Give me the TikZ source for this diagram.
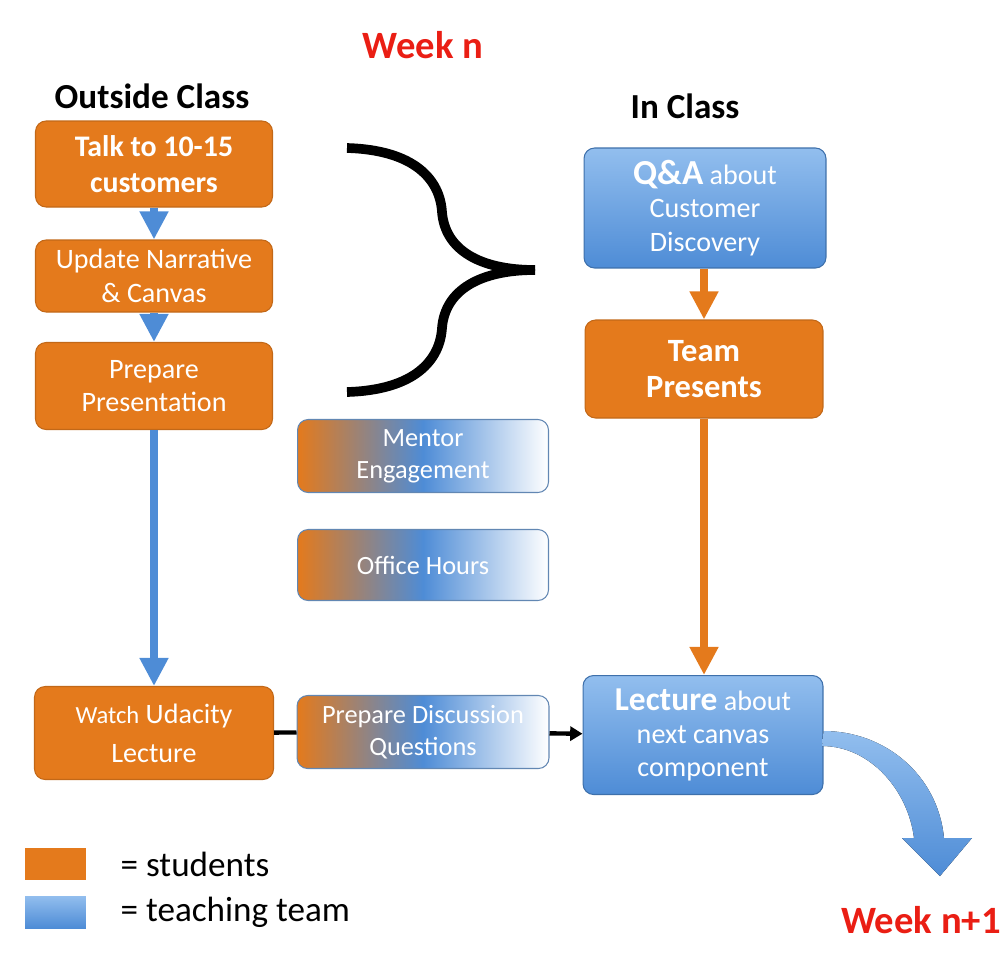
\documentclass[tikz,border=0pt]{standalone}
\usepackage{fontspec}
\setmainfont{Carlito}
\usetikzlibrary{arrows.meta, positioning}

\definecolor{studorange}{RGB}{228,122,28}
\definecolor{teamblue}{RGB}{78,140,214}
\definecolor{teamlight}{RGB}{146,190,238}
\definecolor{weekred}{RGB}{234,30,20}

\begin{document}
\begin{tikzpicture}[x=0.02cm, y=-0.02cm,
    box/.style={rounded corners=6pt, align=center, text=white, inner sep=2pt, line width=0.6pt, font=\fontsize{16}{19}\selectfont},
    student box/.style={box, fill=studorange, draw=studorange!85!black},
    team box/.style={box, top color=teamlight, bottom color=teamblue, draw=teamblue!80!black},
    mixed box/.style={box, left color=studorange, right color=white, middle color=teamblue, draw=teamblue!60!gray, font=\fontsize{15}{18}\selectfont},
    title/.style={font=\bfseries\fontsize{20}{24}\selectfont},
    week/.style={font=\bfseries\fontsize{22}{26}\selectfont, text=weekred},
    key/.style={minimum width=1.22cm, minimum height=0.64cm, inner sep=0pt},
    key text/.style={font=\fontsize{20}{24}\selectfont, inner sep=0pt},
    flow blue/.style={draw=teamblue, line width=4.5pt, -{Triangle[width=15.5pt, length=16pt]}},
    flow orange/.style={draw=studorange, line width=4.5pt, -{Triangle[width=15.5pt, length=16pt]}},
    flow black/.style={draw=black, line width=2.5pt}]

    \useasboundingbox (0,0) rectangle (1003,961);

    % Titles
    \node[week] (weekn) at (423,45) {Week n};
    \node[title] (outside) at (152,96) {Outside Class};
    \node[title] (inclass) at (685,106) {In Class};
    \node[week] (weeknext) at (921,920) {Week n+1};

    % Outside class nodes
    \node[student box, minimum width=4.74cm, minimum height=1.72cm, font=\bfseries\fontsize{17}{20.5}\selectfont] (talk) at (154,164) {Talk to 10-15\\customers};
    \node[student box, minimum width=4.74cm, minimum height=1.44cm] (update) at (154,276) {Update Narrative\\\& Canvas};
    \node[student box, minimum width=4.74cm, minimum height=1.74cm] (prep) at (154,386) {Prepare\\Presentation};
    \node[student box, minimum width=4.78cm, minimum height=1.86cm, font=\fontsize{16}{22}\selectfont] (watch) at (154,733) {{\fontsize{14}{22}\selectfont Watch} Udacity\\Lecture};

    % Shared nodes
    \node[mixed box, minimum width=5.02cm, minimum height=1.46cm] (mentor) at (423,456) {Mentor\\Engagement};
    \node[mixed box, minimum width=5.02cm, minimum height=1.42cm] (office) at (423,565) {Office Hours};
    \node[mixed box, minimum width=5.04cm, minimum height=1.46cm] (discuss) at (423,732) {Prepare Discussion\\Questions};

    % In class nodes
    \node[team box, minimum width=4.84cm, minimum height=2.40cm] (qa) at (705,208) {{\bfseries\fontsize{20}{19}\selectfont Q\&A} about\\Customer\\Discovery};
    \node[student box, minimum width=4.76cm, minimum height=1.96cm, font=\bfseries\fontsize{18.5}{20}\selectfont] (team) at (704,369) {Team\\Presents};
    \node[team box, minimum width=4.80cm, minimum height=2.38cm] (lecture) at (703,735) {{\bfseries\fontsize{19}{19}\selectfont Lecture} about\\next canvas\\component};

    % Arrows between nodes
    \draw[flow blue] (talk) -- (update);
    \draw[flow blue] (update) -- (prep);
    \draw[flow blue] (prep) -- (watch);
    \draw[flow orange] (qa.south -| team) -- (team);
    \draw[flow orange] (team) -- (lecture.north -| team);
    \draw[flow black] (watch) -- (discuss);
    \draw[flow black, -{Triangle[width=8pt, length=7pt]}] (discuss) -- (lecture);

    % Brace
    \draw[line width=5.5pt] (347,148) .. controls (415,150) and (440,180) .. (442,212)
        .. controls (445,250) and (480,270) .. (535,270);
    \draw[line width=5.5pt] (347,392) .. controls (415,390) and (440,360) .. (442,328)
        .. controls (445,290) and (480,270) .. (535,270);

    % Arrow to next week
    \fill[top color=teamlight, bottom color=teamblue] (lecture.east) ++(0,-4) .. controls (885,731) and (938,775) .. (944,838)
        -- (972,838) -- (940,876) -- (902,838) -- (914,838) .. controls (908,790) and (870,746) .. (822,746) -- cycle;

    % Legend
    \node[key, fill=studorange] (keystud) at (55.5,864) {};
    \node[key, top color=teamlight, bottom color=teamblue] (keyteam) at (55.5,912) {};
    \node[key text, right=0.68cm of keystud] (studtext) {= students};
    \node[key text, right=0.68cm of keyteam] (teamtext) {= teaching team};

\end{tikzpicture}
\end{document}
